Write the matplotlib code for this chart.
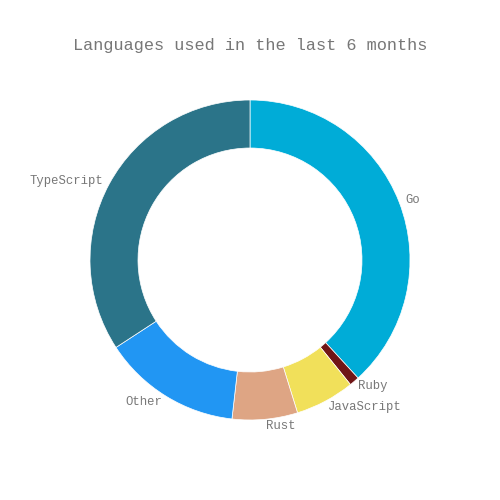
import matplotlib
matplotlib.use("Agg")
import matplotlib.pyplot as plt

languages = ["Go", "Ruby", "JavaScript", "Rust", "Other", "TypeScript"]
shares = [38.2, 1.0, 6.0, 6.6, 14.0, 34.2]
colors = ["#00acd7", "#701516", "#f1e05a", "#dea584", "#2196f3", "#2b7489"]

fig = plt.figure(figsize=(5, 5), dpi=100)
ax = fig.add_axes([0, 0, 1, 1])
wedges, texts = ax.pie(
    shares, labels=languages, colors=colors, startangle=90, counterclock=False,
    radius=1.0, labeldistance=1.04,
    wedgeprops=dict(width=0.3, edgecolor="white", linewidth=0.5),
    textprops=dict(family="Liberation Mono", fontsize=8.8, color="#777777"),
)
ax.set_xlim(-250 / 160, 250 / 160)
ax.set_ylim(-240 / 160, 260 / 160)
ax.set_aspect("auto")
ax.axis("off")
fig.text(0.5, 1 - 45.5 / 500, "Languages used in the last 6 months",
         family="Liberation Mono", fontsize=12.2, color="#777777",
         ha="center", va="center")
fig.savefig("out.png", dpi=100, facecolor="white")
